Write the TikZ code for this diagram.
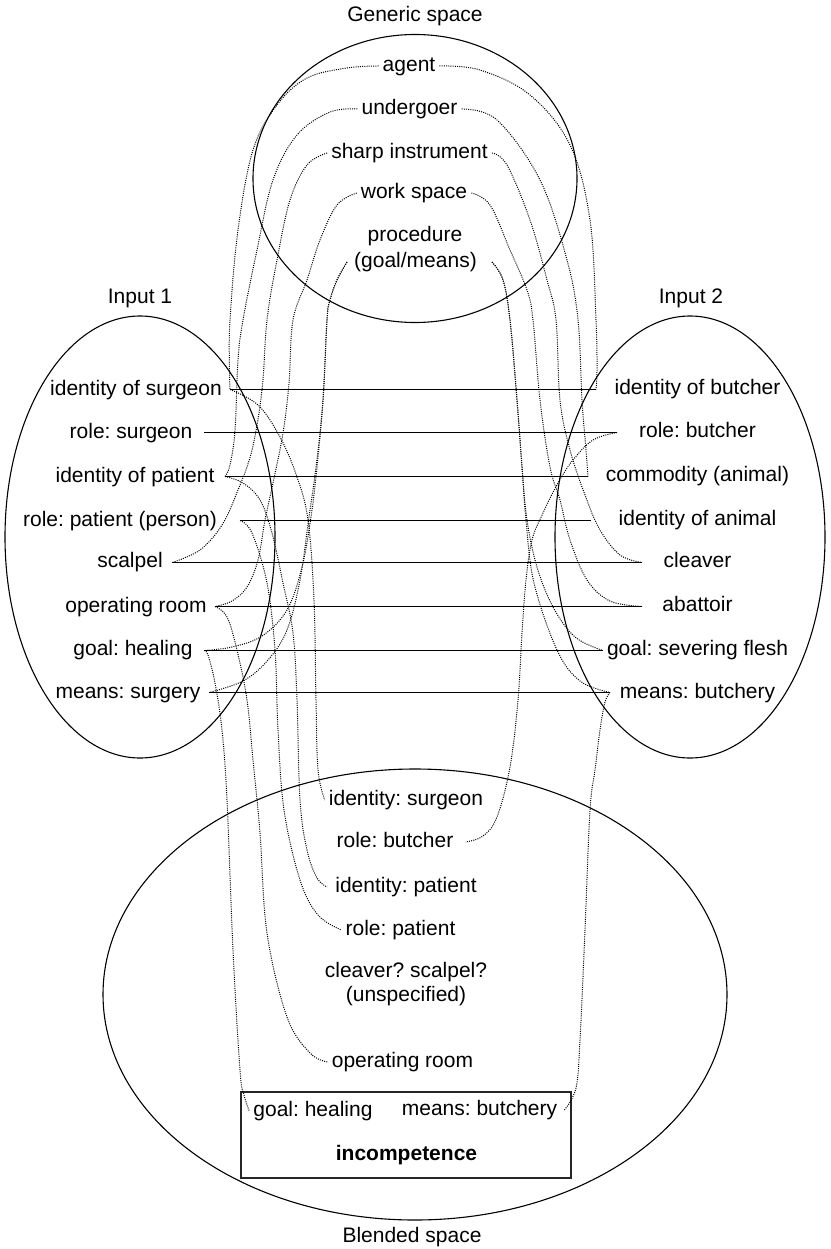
\documentclass[tikz,border=0pt]{standalone}
\usepackage{fontspec}
\setmainfont{Liberation Sans}
\usetikzlibrary{shapes.geometric}
\begin{document}
\frenchspacing
\begin{tikzpicture}[x=1pt,y=-1pt,
  lbl/.style={inner sep=4pt, text height=15pt, text depth=4.5pt, font=\fontsize{21}{25}\selectfont\frenchspacing},
  spacebox/.style={draw, ellipse, line width=1.1pt, inner sep=0pt},
  map/.style={line width=1.2pt},
  link/.style={line width=1pt, dash pattern=on 1pt off 1.2pt},
  curve/.style={smooth, tension=0.6},
]
\fill[white] (0,0) rectangle (830,1249);
\path[use as bounding box] (0,0) rectangle (830,1249);

% ---- spaces ----
\node[spacebox, minimum width=324pt, minimum height=288pt] (G) at (415,178.5) {};
\node[spacebox, minimum width=270pt, minimum height=442pt] (I1) at (140,537) {};
\node[spacebox, minimum width=270pt, minimum height=442pt] (I2) at (690,537) {};
\node[spacebox, minimum width=624pt, minimum height=451pt] (B) at (415,994.5) {};
\node[draw, line width=1.2pt, draw=black!85, minimum width=330pt, minimum height=86pt, inner sep=0pt] (box) at (406,1135) {};

% ---- titles ----
\node[lbl] (tG) at (415,16) {Generic space};
\node[lbl] (tI1) at (140,298) {Input 1};
\node[lbl] (tI2) at (691,298) {Input 2};
\node[lbl] (tB) at (412,1237) {Blended space};

% ---- generic space ----
\node[lbl] (gA) at (409,66) {agent};
\node[lbl] (gU) at (409.5,109) {undergoer};
\node[lbl] (gS) at (409.5,153) {sharp instrument};
\node[lbl] (gW) at (414,193) {work space};
\node[lbl] (gP1) at (415,236) {procedure};
\node[lbl] (gP2) at (415.5,262) {(goal/means)};
\coordinate (gPL) at ([xshift=-3pt]gP2.west);
\coordinate (gPR) at ([xshift=11pt]gP2.east);

% ---- input 1 ----
\node[lbl] (a1) at (136,390) {identity of surgeon};
\node[lbl] (a2) at (131,433) {role: surgeon};
\node[lbl] (a3) at (135,477) {identity of patient};
\node[lbl] (a4) at (120,521) {role: patient (person)};
\node[lbl] (a5) at (130,562) {scalpel};
\node[lbl] (a6) at (136,607) {operating room};
\node[lbl] (a7) at (133,650) {goal: healing};
\node[lbl] (a8) at (128,693) {means: surgery};

% ---- input 2 ----
\node[lbl] (b1) at (697.5,389) {identity of butcher};
\node[lbl] (b2) at (697.5,432) {role: butcher};
\node[lbl] (b3) at (697.5,476) {commodity (animal)};
\node[lbl] (b4) at (697.5,520) {identity of animal};
\node[lbl] (b5) at (697.5,562) {cleaver};
\node[lbl] (b6) at (697.5,606) {abattoir};
\node[lbl] (b7) at (697.5,650) {goal: severing flesh};
\node[lbl] (b8) at (697.5,693) {means: butchery};

% ---- blend ----
\node[lbl] (c1) at (406,800) {identity: surgeon};
\node[lbl] (c2) at (395,842) {role: butcher};
\node[lbl] (c3) at (406,887) {identity: patient};
\node[lbl] (c4) at (400.5,930) {role: patient};
\node[lbl] (c5) at (406,972) {cleaver? scalpel?};
\node[lbl] (c6) at (406,996) {(unspecified)};
\node[lbl] (c7) at (402.5,1062) {operating room};
\node[lbl] (c8) at (313,1111) {goal: healing};
\node[lbl] (c9) at (479.5,1110) {means: butchery};
\node[lbl, font=\fontsize{21}{25}\selectfont\bfseries] (c10) at (406.5,1155) {incompetence};

% ---- cross-space mapping ----
\coordinate (l1) at (230,389.5); \coordinate (r1) at (596,389.5);
\coordinate (l2) at (204,432.5); \coordinate (r2) at (617,432.5);
\coordinate (l3) at (225,476.5); \coordinate (r3) at (588,476.5);
\coordinate (l4) at (240,520.5); \coordinate (r4) at (591,520.5);
\coordinate (l5) at (172,562.5); \coordinate (r5) at (642,562.5);
\coordinate (l6) at (215,606.5); \coordinate (r6) at (642,606.5);
\coordinate (l7) at (204,650.5); \coordinate (r7) at (603,650.5);
\coordinate (l8) at (209,692.5); \coordinate (r8) at (610,692.5);
\foreach \i in {1,...,8} {\draw[map] (l\i) -- (r\i);}

% ---- generic -> input 1 ----
\draw[link] plot[curve] coordinates {(gA.west) (347,68) (307,78) (277,105) (253,150) (238,230) (230,320) (229.5,370) (l1)};
\draw[link] plot[curve] coordinates {(gU.west) (330,112) (297,135) (273,180) (257,250) (243,320) (238,360) (235,430) (230,465) (l3)};
\draw[link] plot[curve] coordinates {(gS.west) (307,165) (290,200) (277,260) (267,320) (262,390) (252,450) (238,490) (222,525) (200,550) (l5)};
\draw[link] plot[curve] coordinates {(gW.west) (337,205) (320,240) (307,280) (293,320) (289,383) (283,433) (273,483) (265,520) (258,560) (247,587) (232,601) (l6)};
\draw[link] plot[curve] coordinates {(gPL) (337,280) (330,300) (327,320) (323,400) (317,467) (311,517) (302,567) (287,610) (262,636) (232,647) (l7)};
\draw[link] plot[curve] coordinates {(gPL) (337,280) (330,300) (327,320) (323,400) (316,467) (309,517) (300,580) (287,630) (268,660) (243,681) (l8)};

% ---- generic -> input 2 ----
\draw[link] plot[curve] coordinates {(gA.east) (480,70) (530,95) (570,145) (590,220) (596,320) (597,370) (r1)};
\draw[link] plot[curve] coordinates {(gU.east) (497,120) (540,180) (567,260) (578,320) (582,400) (586,450) (r3)};
\draw[link] plot[curve] coordinates {(gS.east) (507,165) (530,220) (547,280) (556,320) (560,400) (570,450) (585,495) (600,530) (620,555) (r5)};
\draw[link] plot[curve] coordinates {(gW.east) (490,205) (510,250) (527,290) (533,320) (540,400) (550,467) (560,500) (570,540) (587,580) (610,601) (r6)};
\draw[link] plot[curve] coordinates {(gPR) (503,280) (510,320) (517,400) (522,467) (527,520) (537,567) (553,607) (575,637) (r7)};
\draw[link] plot[curve] coordinates {(gPR) (503,280) (510,320) (517,400) (522,467) (526,520) (534,583) (557,650) (580,681) (r8)};

% ---- inputs -> blend ----
\draw[link] plot[curve] coordinates {(l1) (258,405) (280,437) (297,477) (308,520) (314,600) (316,700) (318,770) (c1.west)};
\draw[link] plot[curve] coordinates {(l3) (243,483) (260,500) (272,533) (283,583) (293,633) (297,700) (300,800) (307,850) (317,878) ([xshift=-4pt]c3.west)};
\draw[link] plot[curve] coordinates {(l4) (252,533) (267,583) (275,650) (278,730) (284,810) (300,880) (318,915) (c4.west)};
\draw[link] plot[curve] coordinates {(l6) (227,617) (237,650) (247,700) (253,760) (260,833) (267,933) (287,1017) (310,1053) (c7.west)};
\draw[link] plot[curve] coordinates {(l7) (208,655) (215,683) (222,730) (227,800) (233,950) (240,1070) (244,1095) (c8.west)};
\draw[link] plot[curve] coordinates {(r2) (593,440) (573,460) (558,483) (543,513) (532,540) (526,580) (522,633) (518,700) (510,767) (497,817) (483,836) ([xshift=8pt]c2.east)};
\draw[link] plot[curve] coordinates {(r8) (605,702) (600,730) (595,770) (590,810) (585,930) (580,1040) (576,1088) ([xshift=3pt]c9.east)};
\end{tikzpicture}
\end{document}
